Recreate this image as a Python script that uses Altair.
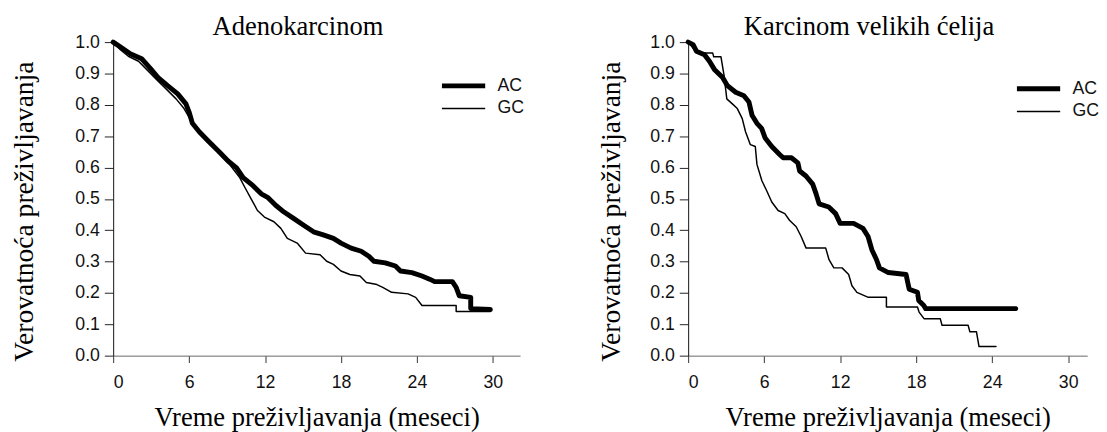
import altair as alt
import pandas as pd

# ---- Adenokarcinom (left panel) ----
ad_ac_t = [0, 0.7, 1.35, 2.25, 2.9, 3.55, 4.3, 5.1, 5.75, 6.0, 6.26, 6.8, 7.55, 8.33, 9.1, 9.75,
           10.27, 11.05, 11.7, 12.2, 12.86, 13.5, 14.28, 15.05, 15.83, 16.6, 17.4, 18.0, 18.8,
           19.6, 20.2, 20.6, 21.5, 22.3, 22.7, 23.6, 24.4, 25.0, 25.4, 26.8, 27.1, 27.35, 28.25,
           28.25, 29.8]
ad_ac_s = [1.0, 0.981, 0.963, 0.947, 0.918, 0.887, 0.861, 0.835, 0.803, 0.777, 0.741, 0.714,
           0.683, 0.652, 0.620, 0.599, 0.568, 0.542, 0.516, 0.505, 0.479, 0.458, 0.437, 0.416,
           0.395, 0.385, 0.374, 0.359, 0.343, 0.333, 0.317, 0.301, 0.296, 0.286, 0.270, 0.265,
           0.254, 0.244, 0.236, 0.236, 0.218, 0.191, 0.186, 0.150, 0.147]

ad_gc_t = [0, 0.57, 1.2, 2.0, 2.64, 3.4, 4.2, 4.97, 5.6, 6.13, 6.8, 7.55, 8.33, 9.1, 9.6, 10.0,
           10.4, 10.9, 11.4, 11.95, 12.7, 13.25, 13.76, 14.54, 15.2, 16.35, 16.87, 17.4, 18.0,
           18.7, 19.5, 20.0, 20.75, 21.3, 22.0, 23.3, 23.9, 24.4, 27.1, 27.1, 29.8]
ad_gc_s = [1.0, 0.976, 0.955, 0.939, 0.913, 0.882, 0.850, 0.819, 0.788, 0.751, 0.714, 0.683,
           0.652, 0.615, 0.589, 0.568, 0.537, 0.500, 0.463, 0.442, 0.427, 0.406, 0.374, 0.359,
           0.327, 0.322, 0.301, 0.291, 0.270, 0.259, 0.254, 0.233, 0.228, 0.218, 0.202, 0.197,
           0.186, 0.160, 0.160, 0.141, 0.141]

# ---- Karcinom velikih celija (right panel) ----
lc_ac_t = [0, 0.39, 0.65, 1.29, 1.68, 2.07, 2.72, 3.1, 3.75, 4.4, 4.8, 5.04, 5.43, 5.8, 6.08,
           6.6, 7.24, 7.5, 8.15, 8.66, 8.8, 9.3, 9.83, 10.1, 10.34, 11.1, 11.64, 12.0, 13.06,
           13.8, 14.2, 14.5, 14.87, 15.1, 15.8, 17.2, 17.45, 18.1, 18.2, 18.6, 18.75, 25.86]
lc_ac_s = [1.0, 0.992, 0.971, 0.960, 0.939, 0.913, 0.887, 0.861, 0.840, 0.829, 0.809, 0.767,
           0.741, 0.725, 0.694, 0.667, 0.641, 0.631, 0.631, 0.615, 0.589, 0.573, 0.547, 0.516,
           0.484, 0.474, 0.453, 0.422, 0.422, 0.406, 0.380, 0.338, 0.306, 0.280, 0.265, 0.259,
           0.212, 0.202, 0.176, 0.160, 0.150, 0.150]

lc_gc_t = [0, 0.39, 0.72, 1.94, 2.02, 2.59, 2.84, 3.05, 3.49, 3.88, 4.27, 4.53, 4.91, 5.3, 5.43,
           5.82, 6.2, 6.6, 7.1, 7.63, 8.0, 8.53, 8.92, 9.31, 10.86, 11.12, 11.5, 12.15, 12.67,
           12.93, 13.32, 14.22, 15.65, 15.65, 18.1, 18.23, 18.62, 19.9, 20.04, 22.1, 22.24,
           22.76, 22.96, 24.3]
lc_gc_s = [1.0, 0.981, 0.965, 0.965, 0.953, 0.953, 0.892, 0.819, 0.803, 0.788, 0.756, 0.714,
           0.673, 0.667, 0.610, 0.558, 0.526, 0.490, 0.463, 0.453, 0.432, 0.411, 0.380, 0.343,
           0.343, 0.306, 0.280, 0.280, 0.259, 0.223, 0.202, 0.186, 0.186, 0.155, 0.155, 0.139,
           0.118, 0.118, 0.097, 0.097, 0.076, 0.076, 0.029, 0.029]

series_names = ["AC", "GC"]
x_ticks = [0, 6, 12, 18, 24, 30]
y_ticks = [0.0, 0.1, 0.2, 0.3, 0.4, 0.5, 0.6, 0.7, 0.8, 0.9, 1.0]


def frame(ac_t, ac_s, gc_t, gc_s):
    rows = []
    for name, ts, ss in ((series_names[0], ac_t, ac_s), (series_names[1], gc_t, gc_s)):
        for i, (t, s) in enumerate(zip(ts, ss)):
            rows.append({"t": t, "s": s, "series": name, "i": i})
    return pd.DataFrame(rows)


def panel(df, title, xmax, width, ytitle_pad, legend_y):
    return alt.Chart(df).mark_line(color="black", strokeJoin="round", strokeCap="round").encode(
        x=alt.X("t:Q",
                scale=alt.Scale(domain=[0, xmax], nice=False, zero=True),
                axis=alt.Axis(values=x_ticks, title="Vreme preživljavanja (meseci)",
                              tickSize=7, labelPadding=11, titlePadding=14,
                              domainColor="#666666", tickColor="#333333")),
        y=alt.Y("s:Q",
                scale=alt.Scale(domain=[0, 1], nice=False),
                axis=alt.Axis(values=y_ticks, format=".1f", title="Verovatnoća preživljavanja",
                              titleFontSize=28,
                              tickSize=9, labelPadding=5, titlePadding=ytitle_pad, titleY=172,
                              domainColor="#111111", tickColor="#222222")),
        strokeWidth=alt.StrokeWidth("series:N",
                                    scale=alt.Scale(domain=series_names, range=[5, 1.5]),
                                    legend=alt.Legend(title=None, orient="none", legendX=332,
                                                      legendY=legend_y, symbolType="stroke",
                                                      symbolSize=1936, symbolStrokeColor="black",
                                                      clipHeight=23,
                                                      labelFont="Liberation Sans",
                                                      labelFontSize=18, labelColor="#111111",
                                                      labelOffset=10, rowPadding=0)),
        order=alt.Order("i:Q"),
    ).properties(
        width=width, height=319,
        title=alt.TitleParams(title, font="Liberation Serif", fontSize=27, fontWeight="normal",
                              color="black", offset=-8, dx=-19, anchor="middle"),
    )


left = panel(frame(ad_ac_t, ad_ac_s, ad_gc_t, ad_gc_s), "Adenokarcinom", 32.15, 414, 37, 33)
right = panel(frame(lc_ac_t, lc_ac_s, lc_gc_t, lc_gc_s), "Karcinom velikih ćelija", 31.5, 406, 25, 36)

chart = alt.hconcat(left, right, spacing=74).resolve_scale(
    strokeWidth="independent"
).resolve_legend(strokeWidth="independent").properties(
    padding={"left": 2, "top": 2, "right": 0, "bottom": 0},
    background="white",
).configure_axis(
    grid=False,
    labelFont="Liberation Sans", labelFontSize=18, labelColor="#111111",
    titleFont="Liberation Serif", titleFontSize=27, titleFontWeight="normal", titleColor="black",
).configure_view(stroke=None)

chart.save("out.html", embed_options={"renderer": "svg", "actions": False})
